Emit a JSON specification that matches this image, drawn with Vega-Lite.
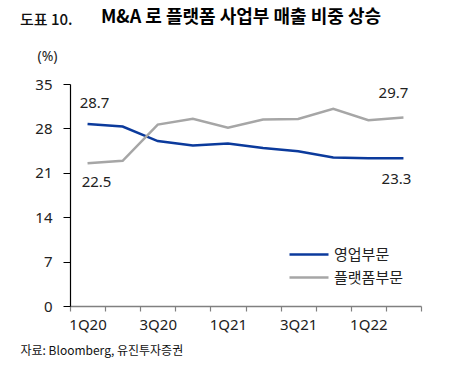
{
  "$schema": "https://vega.github.io/schema/vega-lite/v6.json",
  "width": 351,
  "height": 222,
  "autosize": "none",
  "padding": {"left": 70, "top": 84, "right": 50, "bottom": 63},
  "background": "white",
  "config": {"view": {"stroke": null}, "font": "Noto Sans"},
  "title": {
    "text": "도표 10.",
    "subtitle": "\u200b\u2003\u2003\u2003\u2003\u2002M&A 로 플랫폼 사업부 매출 비중 상승",
    "anchor": "start",
    "frame": "group",
    "dx": -50,
    "offset": 17,
    "font": "Noto Sans CJK KR",
    "fontSize": 15,
    "fontWeight": 500,
    "color": "#111111",
    "subtitleFont": "Noto Sans CJK KR",
    "subtitleFontSize": 18,
    "subtitleFontWeight": "bold",
    "subtitleColor": "#000000",
    "subtitlePadding": -19
  },
  "data": {
    "values": [
      {"period": "1Q20", "series": "영업부문", "value": 28.7},
      {"period": "2Q20", "series": "영업부문", "value": 28.3},
      {"period": "3Q20", "series": "영업부문", "value": 26.0},
      {"period": "4Q20", "series": "영업부문", "value": 25.3},
      {"period": "1Q21", "series": "영업부문", "value": 25.6},
      {"period": "2Q21", "series": "영업부문", "value": 24.9},
      {"period": "3Q21", "series": "영업부문", "value": 24.4},
      {"period": "4Q21", "series": "영업부문", "value": 23.4},
      {"period": "1Q22", "series": "영업부문", "value": 23.3},
      {"period": "2Q22", "series": "영업부문", "value": 23.3},
      {"period": "1Q20", "series": "플랫폼부문", "value": 22.5},
      {"period": "2Q20", "series": "플랫폼부문", "value": 22.9},
      {"period": "3Q20", "series": "플랫폼부문", "value": 28.6},
      {"period": "4Q20", "series": "플랫폼부문", "value": 29.5},
      {"period": "1Q21", "series": "플랫폼부문", "value": 28.1},
      {"period": "2Q21", "series": "플랫폼부문", "value": 29.4},
      {"period": "3Q21", "series": "플랫폼부문", "value": 29.5},
      {"period": "4Q21", "series": "플랫폼부문", "value": 31.1},
      {"period": "1Q22", "series": "플랫폼부문", "value": 29.3},
      {"period": "2Q22", "series": "플랫폼부문", "value": 29.7}
    ]
  },
  "encoding": {
    "x": {
      "field": "period",
      "type": "ordinal",
      "sort": ["1Q20","2Q20","3Q20","4Q20","1Q21","2Q21","3Q21","4Q21","1Q22","2Q22"],
      "scale": {"type": "band", "paddingInner": 0, "paddingOuter": 0},
      "axis": {
        "title": "자료: Bloomberg, 유진투자증권",
        "titleFont": "Noto Sans CJK KR",
        "titleFontSize": 12,
        "titleFontWeight": "normal",
        "titleColor": "#111111",
        "titleAnchor": "start",
        "titleAlign": "left",
        "titleBaseline": "middle",
        "titleX": -50,
        "titleY": 44,
        "tickBand": "extent",
        "labelAngle": 0,
        "labelFontSize": 15,
        "labelColor": "#222222",
        "labelPadding": 6,
        "labelExpr": "indexof(['1Q20','3Q20','1Q21','3Q21','1Q22'], datum.value) >= 0 ? datum.value : ''",
        "domainColor": "#808080",
        "domainWidth": 1.5,
        "tickColor": "#808080",
        "tickWidth": 1.2,
        "tickSize": 5
      }
    },
    "y": {
      "field": "value",
      "type": "quantitative",
      "scale": {"domain": [0, 35], "nice": false},
      "axis": {
        "values": [0, 7, 14, 21, 28, 35],
        "title": "(%)",
        "titleAngle": 0,
        "titleX": -23,
        "titleY": -28,
        "titleAlign": "center",
        "titleBaseline": "middle",
        "titleFont": "Noto Sans",
        "titleFontSize": 14,
        "titleFontWeight": "normal",
        "titleColor": "#222222",
        "grid": false,
        "labelFontSize": 15,
        "labelColor": "#222222",
        "labelPadding": 11,
        "domainColor": "#000000",
        "domainWidth": 1.2,
        "tickColor": "#000000",
        "tickSize": 7
      }
    }
  },
  "layer": [
    {
      "mark": {"type": "line", "strokeWidth": 2.5},
      "encoding": {
        "color": {
          "field": "series",
          "type": "nominal",
          "sort": ["영업부문", "플랫폼부문"],
          "scale": {"domain": ["영업부문", "플랫폼부문"], "range": ["#0b3a9c", "#a6a6a6"]},
          "legend": {
            "title": null,
            "orient": "none",
            "legendX": 218,
            "legendY": 163,
            "symbolType": "stroke",
            "symbolSize": 1521,
            "symbolStrokeWidth": 2.5,
            "clipHeight": 15,
            "labelFont": "Noto Sans CJK KR",
            "labelFontSize": 15,
            "labelColor": "#222222",
            "labelOffset": 4,
            "rowPadding": 7
          }
        }
      }
    },
    {
      "transform": [{"filter": "datum.period == '1Q20' && datum.series == '영업부문'"}],
      "mark": {"type": "text", "dx": 7, "dy": -21, "fontSize": 15, "color": "#222222"},
      "encoding": {"text": {"field": "value", "type": "quantitative", "format": ".1f"}}
    },
    {
      "transform": [{"filter": "datum.period == '1Q20' && datum.series == '플랫폼부문'"}],
      "mark": {"type": "text", "dx": 9, "dy": 19, "fontSize": 15, "color": "#222222"},
      "encoding": {"text": {"field": "value", "type": "quantitative", "format": ".1f"}}
    },
    {
      "transform": [{"filter": "datum.period == '2Q22' && datum.series == '플랫폼부문'"}],
      "mark": {"type": "text", "dx": -10, "dy": -25, "fontSize": 15, "color": "#222222"},
      "encoding": {"text": {"field": "value", "type": "quantitative", "format": ".1f"}}
    },
    {
      "transform": [{"filter": "datum.period == '2Q22' && datum.series == '영업부문'"}],
      "mark": {"type": "text", "dx": -7, "dy": 21, "fontSize": 15, "color": "#222222"},
      "encoding": {"text": {"field": "value", "type": "quantitative", "format": ".1f"}}
    }
  ]
}
